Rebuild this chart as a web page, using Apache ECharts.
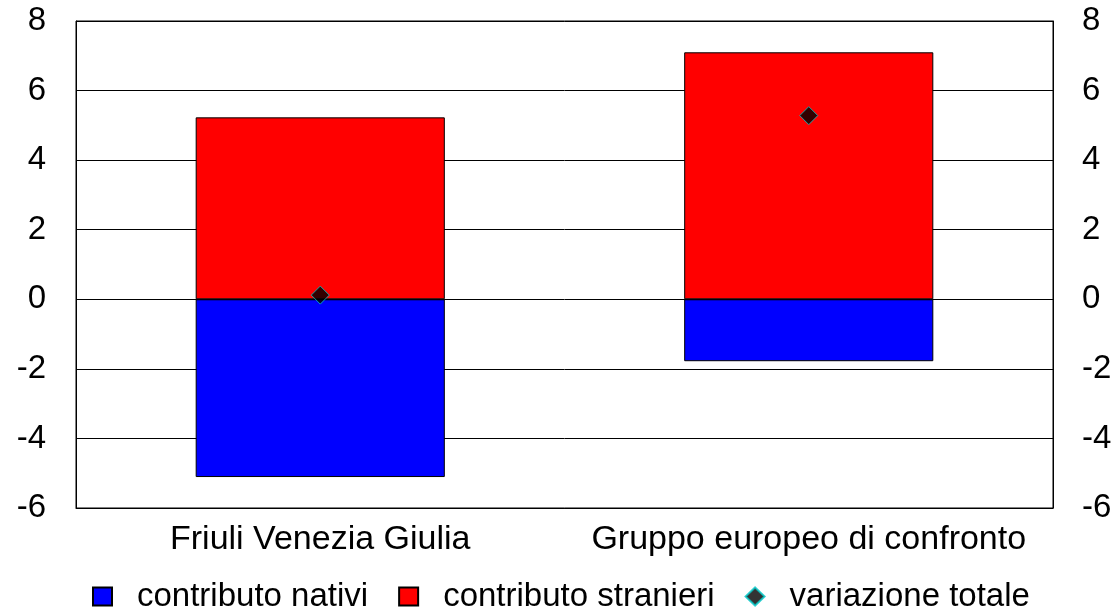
<!DOCTYPE html>
<html><head><meta charset="utf-8">
<script src="https://cdn.jsdelivr.net/npm/echarts@6/dist/echarts.min.js"></script>
<style>html,body{margin:0;padding:0;background:#fff}#c{width:1120px;height:611px}</style>
</head><body><div id="c"></div>
<script>
const categories = ['Friuli Venezia Giulia', 'Gruppo europeo di confronto'];
const nativi = [-5.11, -1.78];
const stranieri = [5.23, 7.10];
const totale = [0.12, 5.28];
const yTicks = [-6, -4, -2, 0, 2, 4, 6, 8];

const font = 'Liberation Sans, Arial, sans-serif';
const chart = echarts.init(document.getElementById('c'));
const yAxisBase = {
  type: 'value', min: yTicks[0], max: yTicks[yTicks.length - 1], interval: 2,
  axisLine: { show: true, lineStyle: { color: '#000', width: 1 } },
  axisTick: { show: false },
  axisLabel: { color: '#000', fontSize: 33, fontFamily: font, margin: 30 },
  splitLine: { show: true, lineStyle: { color: '#000', width: 1 } }
};
chart.setOption({
  animation: false,
  backgroundColor: '#fff',
  grid: { left: 76, right: 67, top: 21, bottom: 103, show: true, borderColor: '#000', borderWidth: 1 },
  legend: {
    bottom: -7, left: 87, itemWidth: 19, itemHeight: 18, itemGap: 30,
    textStyle: { color: '#000', fontSize: 33, fontFamily: font, padding: [0, 0, 0, 20] },
    data: [
      { name: 'contributo nativi', icon: 'rect' },
      { name: 'contributo stranieri', icon: 'rect' },
      { name: 'variazione totale', icon: 'diamond' }
    ]
  },
  xAxis: {
    type: 'category', data: categories,
    axisLine: { show: true, onZero: false, lineStyle: { color: '#000' } },
    axisTick: { show: false },
    axisLabel: { color: '#000', fontSize: 34, fontFamily: font, margin: 15, interval: 0 }
  },
  yAxis: [
    Object.assign({}, yAxisBase, { position: 'left' }),
    Object.assign({}, yAxisBase, { position: 'right', splitLine: { show: false }, axisLabel: Object.assign({}, yAxisBase.axisLabel, { margin: 29 }) })
  ],
  series: [
    { name: 'contributo nativi', type: 'bar', stack: 's', data: nativi, barWidth: '51%',
      itemStyle: { color: '#0000ff', borderColor: '#000', borderWidth: 1 } },
    { name: 'contributo stranieri', type: 'bar', stack: 's', data: stranieri, barWidth: '51%',
      itemStyle: { color: '#ff0000', borderColor: '#000', borderWidth: 1 } },
    { name: 'variazione totale', type: 'scatter', data: totale, symbol: 'diamond', symbolSize: 18, z: 5,
      itemStyle: { color: '#000', borderColor: '#00c8c8', borderWidth: 1 } }
  ]
});
</script></body></html>
